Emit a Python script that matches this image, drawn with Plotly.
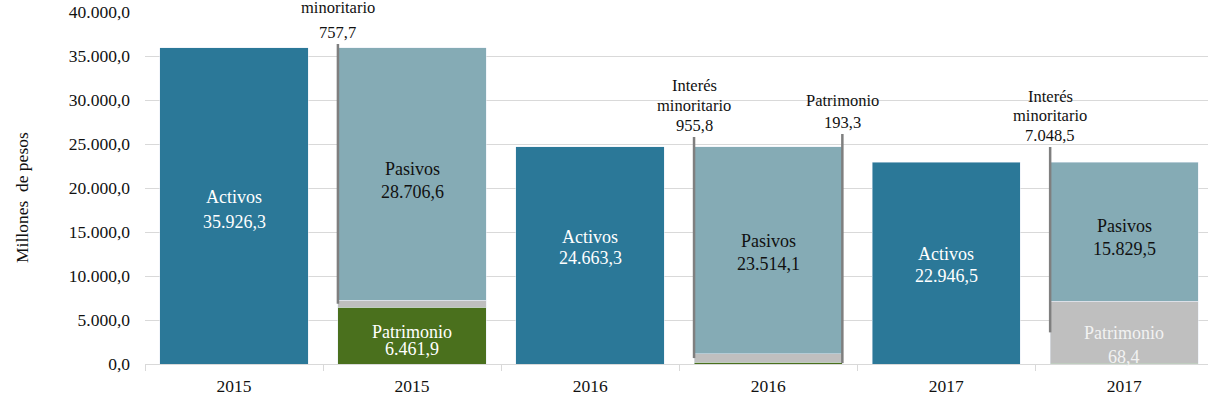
import plotly.graph_objects as go

# ---------------- data ----------------
categories = ["2015", "2015", "2016", "2016", "2017", "2017"]
activos = [35926.3, 24663.3, 22946.5]
pasivos = [28706.6, 23514.1, 15829.5]
interes = [757.7, 955.8, 7048.5]
patrimonio = [6461.9, 193.3, 68.4]
y_ticks = [0, 5000, 10000, 15000, 20000, 25000, 30000, 35000, 40000]

# ---------------- style ----------------
C_ACT = "#2B7898"
C_PAS = "#85ABB5"
C_PAT = "#4A701D"
C_INT = "#BFBFBF"
C_LEAD = "#7F7F7F"
FONT = "Times New Roman, Liberation Serif, DejaVu Serif, serif"
BAR_W = 0.833

pos = list(range(len(categories)))
act_x = pos[0::2]
comp_x = pos[1::2]


def fmt(v):
    s = f"{v:,.1f}"
    return s.replace(",", "X").replace(".", ",").replace("X", ".")


fig = go.Figure()
fig.add_bar(x=act_x, y=activos, marker_color=C_ACT, width=BAR_W, name="Activos")
fig.add_bar(x=comp_x, y=patrimonio, marker_color=C_PAT, width=BAR_W, name="Patrimonio")
fig.add_bar(x=comp_x, y=interes, marker_color=C_INT, width=BAR_W, name="Interés minoritario")
fig.add_bar(x=comp_x, y=pasivos, marker_color=C_PAS, width=BAR_W, name="Pasivos")

annotations = []


def label(x, y, lines, color, size, spacing, shift=0.0):
    n = len(lines)
    for i, t in enumerate(lines):
        annotations.append(dict(
            x=x, y=y, xref="x", yref="y", text=t, showarrow=False,
            xanchor="center", yanchor="middle",
            yshift=shift + ((n - 1) / 2 - i) * spacing,
            font=dict(family=FONT, size=size, color=color)))


# Activos labels
act_shift = [-3.5, 8, -2]
act_space = [25, 21, 22]
for k, x in enumerate(act_x):
    label(x, activos[k] / 2, ["Activos", fmt(activos[k])], "white", 18,
          act_space[k], act_shift[k])

# Pasivos labels
pas_shift = [-6, -2.5, -6]
for k, x in enumerate(comp_x):
    base = patrimonio[k] + interes[k]
    label(x, base + pasivos[k] / 2, ["Pasivos", fmt(pasivos[k])], "#111111", 18,
          23, pas_shift[k])

# Patrimonio inside labels (2015 and 2017)
label(comp_x[0], patrimonio[0] / 2, ["Patrimonio", fmt(patrimonio[0])], "white", 18, 17, -5)
label(comp_x[2], patrimonio[2] / 2, ["Patrimonio", fmt(patrimonio[2])], "#F2F2F2", 18, 24, 19)

# Callouts with leader lines
shapes = []
callouts = [
    # (bar index k, side, segment, line top value, spacing)
    (0, -1, "int", 36364, 25),
    (1, -1, "int", 25795, 20),
    (1, +1, "pat", 26136, 22),
    (2, -1, "int", 24659, 19.5),
]
for k, side, seg, top, sp in callouts:
    x = comp_x[k] + side * BAR_W / 2
    if seg == "int":
        mid = patrimonio[k] + interes[k] / 2
        lines = ["Interés", "minoritario", fmt(interes[k])]
    else:
        mid = patrimonio[k] / 2
        lines = ["Patrimonio", fmt(patrimonio[k])]
    shapes.append(dict(type="line", xref="x", yref="y", x0=x, x1=x, y0=top, y1=mid,
                       line=dict(color=C_LEAD, width=2.5)))
    n = len(lines)
    for i, t in enumerate(lines):
        annotations.append(dict(
            x=x, y=top, xref="x", yref="y", text=t, showarrow=False,
            xanchor="center", yanchor="middle",
            yshift=12 + (n - 1 - i) * sp,
            font=dict(family=FONT, size=16.5, color="#111111")))

# Y axis title
annotations.append(dict(
    x=0, y=0.5, xref="paper", yref="paper", xshift=-123, yshift=-10,
    text="Millones\u00a0 de pesos", textangle=-90, showarrow=False,
    xanchor="center", yanchor="middle",
    font=dict(family=FONT, size=17.5, color="#111111")))

fig.update_layout(
    width=1208, height=403,
    margin=dict(l=145, r=0, t=12, b=39, autoexpand=False),
    plot_bgcolor="white", paper_bgcolor="white",
    barmode="stack", showlegend=False,
    separators=",.",
    annotations=annotations, shapes=shapes,
    font=dict(family=FONT, size=17.5, color="#111111"),
)
fig.update_xaxes(
    range=[-0.5, len(categories) - 0.5 - 0.03],
    tickmode="array", tickvals=pos, ticktext=categories,
    ticks="", showgrid=False, zeroline=False,
    showline=True, linecolor="#D9D9D9", linewidth=1,
    ticklabelstandoff=6, automargin=False,
    tickfont=dict(family=FONT, size=17.5, color="#111111"),
    minor=dict(tick0=-0.5, dtick=1, ticks="outside", ticklen=6,
               tickcolor="#D9D9D9", tickwidth=1, showgrid=False),
)
fig.update_yaxes(
    range=[0, 40000], tickmode="array", tickvals=y_ticks,
    tickformat=",.1f", showgrid=True, gridcolor="#D9D9D9", gridwidth=1,
    zeroline=False, showline=False, ticks="",
    ticklabelstandoff=14, automargin=False, ticklabeloverflow="allow",
    tickfont=dict(family=FONT, size=17.5, color="#111111"),
)

fig.write_html("out.html", config={"displayModeBar": False},
               post_script="document.body.style.margin='0';document.body.style.padding='0';")
